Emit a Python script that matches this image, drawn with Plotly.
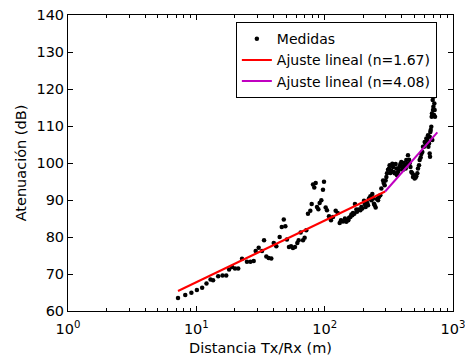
import plotly.graph_objects as go

# Measured path loss vs. Tx/Rx distance
distancia_m = [
    7.2, 8.2, 9.15, 10.1, 11.1, 12.0, 12.9, 13.5, 14.8, 16.0, 17.1, 18.0, 19.0, 20.0,
    21.2, 22.7, 24.8, 26.4, 28.0, 29.0, 30.6, 32.5, 33.7, 35.1, 36.6, 38.4, 40.1, 42.0,
    44.6, 46.3, 48.0, 49.4, 50.8, 52.7, 54.7, 56.6, 58.7, 61.2, 62.7, 65.0, 67.8, 69.8,
    71.9, 74.1, 77.3, 79.2, 81.1, 83.0, 85.1, 87.1, 89.3, 91.4, 94.2, 97.0, 98.8, 101.8,
    104.2, 108.1, 112.0, 116.1, 121.8, 126.3, 130.9, 134.0, 139.0, 143.9, 149.3, 154.9,
    161.5, 166.3, 172.2, 178.6, 184.1, 189.7, 196.6, 202.5, 208.5, 214.9, 221.4, 227.0,
    235.1, 242.2, 249.6, 255.9, 264.9, 271.5, 276.5, 285.1, 293.7, 302.6, 311.7, 320.8,
    330.5, 340.6, 351.0, 361.6, 372.6, 383.9, 395.6, 407.5, 419.8, 432.6, 445.8, 459.3,
    473.3, 487.7, 502.4, 517.6, 533.5, 549.8, 566.6, 583.8, 601.7, 619.9, 638.6, 650.5,
    658.0, 662.2, 670.4, 682.2, 690.2, 698.2, 706.4, 715.3, 724.3,
    288.3, 298.6, 306.0, 317.4, 325.0, 336.7, 345.1, 357.3, 366.6, 379.6, 389.0, 402.8,
    413.2, 427.6, 438.5, 454.4, 465.8, 482.2, 496.6, 511.7, 527.3, 543.4, 559.8, 576.9,
    594.3, 612.4, 631.0, 642.9, 658.0, 665.8, 677.5, 685.3, 694.9, 703.2, 711.5, 719.6,
    147.5, 152.8, 158.6, 164.3, 170.2, 176.6, 193.2, 205.1, 217.8, 231.3, 238.3, 245.3,
    260.6,
]
atenuacion_db = [
    63.5, 64.3, 64.9, 65.7, 66.3, 67.4, 68.5, 68.3, 69.4, 69.6, 69.6, 71.2, 71.9, 71.5,
    71.5, 74.1, 73.3, 73.3, 73.5, 76.2, 77.1, 76.2, 79.1, 74.7, 74.3, 74.2, 78.4, 77.5,
    80.0, 82.7, 84.7, 82.9, 79.3, 77.3, 77.5, 77.0, 77.3, 78.4, 79.1, 81.2, 79.1, 79.8,
    81.8, 86.3, 87.1, 88.9, 94.2, 93.4, 94.6, 88.1, 87.5, 89.2, 89.9, 92.8, 94.9, 88.0,
    87.2, 85.6, 84.5, 85.4, 87.1, 86.5, 83.8, 84.5, 84.2, 85.0, 84.5, 85.2,
    86.1, 86.5, 88.9, 86.8, 87.4, 87.2, 87.7, 89.8, 88.1, 89.2, 90.4, 91.0,
    91.6, 89.0, 88.0, 90.3, 90.8, 91.3, 93.1, 95.3, 94.0, 96.2, 98.2, 99.4,
    97.9, 98.9, 97.2, 98.5, 97.6, 99.1, 100.3, 98.2, 99.4, 100.8, 102.1, 99.9,
    97.6, 96.2, 95.8, 96.4, 98.5, 100.8, 102.4, 104.4, 105.7, 106.6, 107.5, 105.3,
    102.6, 101.7, 108.9, 112.5, 106.2, 114.3, 117.9, 116.1, 112.5,
    94.6, 95.3, 97.2, 98.5, 97.3, 99.8, 97.6, 99.7, 96.7, 98.2, 99.7, 98.9,
    100.0, 98.5, 99.7, 100.9, 98.9, 97.2, 96.7, 96.1, 97.2, 99.4, 101.5, 103.0,
    104.4, 105.3, 106.2, 104.4, 107.1, 108.4, 109.8, 113.4, 117.0, 115.2, 113.0, 114.3,
    84.1, 84.5, 85.4, 85.9, 86.3, 87.4, 88.1, 88.9, 88.6, 89.9, 90.4, 88.6,
    89.9,
]

# Two-slope linear fits (in log distance): end points of each segment
ajuste1_d = [7.2, 296.0]
ajuste1_db = [65.4, 92.3]
ajuste2_d = [296.0, 755.0]
ajuste2_db = [92.3, 108.3]

x_tick_vals = [1, 10, 100, 1000]
x_tick_text = ["10<sup>0</sup>", "10<sup>1</sup>", "10<sup>2</sup>", "10<sup>3</sup>"]
x_minor_vals = [m * 10 ** k for k in range(3) for m in range(2, 10)]
y_tick_vals = [60, 70, 80, 90, 100, 110, 120, 130, 140]

FONT = "DejaVu Sans, Verdana, sans-serif"

fig = go.Figure()
fig.add_trace(go.Scatter(
    x=distancia_m, y=atenuacion_db, mode="markers", name="Medidas",
    marker=dict(color="black", size=4.5),
))
fig.add_trace(go.Scatter(
    x=ajuste1_d, y=ajuste1_db, mode="lines", name="Ajuste lineal (n=1.67)",
    line=dict(color="#ff0000", width=2),
))
fig.add_trace(go.Scatter(
    x=ajuste2_d, y=ajuste2_db, mode="lines", name="Ajuste lineal (n=4.08)",
    line=dict(color="#c000c0", width=2),
))

fig.update_layout(
    width=465, height=358,
    margin=dict(l=68, r=12, t=15, b=47, autoexpand=False),
    paper_bgcolor="white", plot_bgcolor="white",
    font=dict(family=FONT, size=14.5, color="black"),
    showlegend=True,
    legend=dict(
        x=0.436, y=0.976, xanchor="left", yanchor="top",
        bgcolor="white", bordercolor="black", borderwidth=1,
        font=dict(size=14), tracegroupgap=0,
    ),
    xaxis=dict(
        type="log", range=[0, 3], automargin=False,
        tickvals=x_tick_vals, ticktext=x_tick_text, ticklabeloverflow="allow",
        ticks="inside", ticklen=5, tickcolor="black",
        minor=dict(tickvals=x_minor_vals, ticks="inside", ticklen=3, tickcolor="black"),
        showline=True, linecolor="black", linewidth=1, mirror="ticks",
        showgrid=False, zeroline=False, ticklabelstandoff=5,
        title=dict(text="Distancia Tx/Rx (m)", standoff=6, font=dict(size=14.5)),
        tickfont=dict(size=14.5),
    ),
    yaxis=dict(
        range=[60, 140], tickvals=y_tick_vals, automargin=False,
        ticks="inside", ticklen=5, tickcolor="black",
        showline=True, linecolor="black", linewidth=1, mirror="ticks",
        showgrid=False, zeroline=False,
        title=dict(text="Atenuación (dB)", standoff=6, font=dict(size=14.5)),
        tickfont=dict(size=14.5),
    ),
)

fig.write_html("out.html")
